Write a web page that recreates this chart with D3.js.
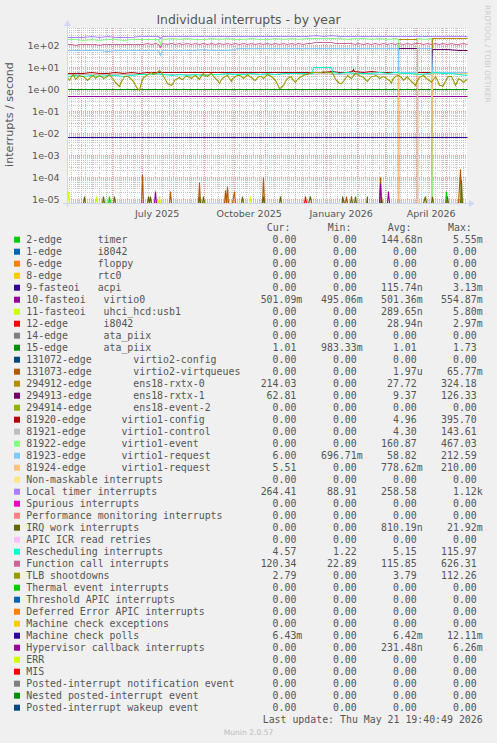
<!DOCTYPE html>
<html><head><meta charset="utf-8">
<script src="https://cdn.jsdelivr.net/npm/d3@7"></script>
<style>
body{margin:0;background:#f0f0f0}
svg{display:block}
.mono{font-family:"DejaVu Sans Mono",monospace;white-space:pre}
.sans{font-family:"DejaVu Sans",sans-serif}
</style>
</head><body><svg id="c" width="497" height="743"></svg>
<script>
// ---------- data ----------
const startTime = Date.UTC(2025, 3, 16, 19, 40, 49);
const endTime = Date.UTC(2026, 4, 21, 19, 40, 49);

const legendNames = [
  "2-edge      timer","1-edge      i8042","6-edge      floppy","8-edge      rtc0",
  "9-fasteoi   acpi","10-fasteoi   virtio0","11-fasteoi   uhci_hcd:usb1","12-edge      i8042",
  "14-edge      ata_piix","15-edge      ata_piix","131072-edge       virtio2-config",
  "131073-edge       virtio2-virtqueues","294912-edge       ens18-rxtx-0","294913-edge       ens18-rxtx-1",
  "294914-edge       ens18-event-2","81920-edge      virtio1-config","81921-edge      virtio1-control",
  "81922-edge      virtio1-event","81923-edge      virtio1-request","81924-edge      virtio1-request",
  "Non-maskable interrupts","Local timer interrupts","Spurious interrupts",
  "Performance monitoring interrupts","IRQ work interrupts","APIC ICR read retries",
  "Rescheduling interrupts","Function call interrupts","TLB shootdowns","Thermal event interrupts",
  "Threshold APIC interrupts","Deferred Error APIC interrupts","Machine check exceptions",
  "Machine check polls","Hypervisor callback interrupts","ERR","MIS",
  "Posted-interrupt notification event","Nested posted-interrupt event","Posted-interrupt wakeup event"
];
const legendColors = [
  "#00CC00","#0066B3","#FF8000","#FFCC00","#330099","#990099","#CCFF00","#FF0000","#808080",
  "#008F00","#00487D","#B35A00","#B38F00","#6B006B","#8FB300","#B30000","#BEBEBE","#80FF80",
  "#80C9FF","#FFC080","#FFE680","#AA80FF","#EE00CC","#FF8080","#666600","#FFBFFF","#00FFCC",
  "#CC6699","#999900","#00CC00","#0066B3","#FF8000","#FFCC00","#330099","#990099","#CCFF00",
  "#FF0000","#808080","#008F00","#00487D"
];
const curVals = ["0.00","0.00","0.00","0.00","0.00","501.09m","0.00","0.00","0.00","1.01","0.00","0.00","214.03","62.81","0.00","0.00","0.00","0.00","6.00","5.51","0.00","264.41","0.00","0.00","0.00","0.00","4.57","120.34","2.79","0.00","0.00","0.00","0.00","6.43m","0.00","0.00","0.00","0.00","0.00","0.00"];
const minVals = ["0.00","0.00","0.00","0.00","0.00","495.06m","0.00","0.00","0.00","983.33m","0.00","0.00","0.00","0.00","0.00","0.00","0.00","0.00","696.71m","0.00","0.00","88.91","0.00","0.00","0.00","0.00","1.22","22.89","0.00","0.00","0.00","0.00","0.00","0.00","0.00","0.00","0.00","0.00","0.00","0.00"];
const avgVals = ["144.68n","0.00","0.00","0.00","115.74n","501.36m","289.65n","28.94n","0.00","1.01","0.00","1.97u","27.72","9.37","0.00","4.96","4.30","160.87","58.82","778.62m","0.00","258.58","0.00","0.00","810.19n","0.00","5.15","115.85","3.79","0.00","0.00","0.00","0.00","6.42m","231.48n","0.00","0.00","0.00","0.00","0.00"];
const maxVals = ["5.55m","0.00","0.00","0.00","3.13m","554.87m","5.80m","2.97m","0.00","1.73","0.00","65.77m","324.18","126.33","0.00","395.70","143.61","467.03","212.59","210.00","0.00","1.12k","0.00","0.00","21.92m","0.00","115.97","626.31","112.26","0.00","0.00","0.00","0.00","12.11m","6.26m","0.00","0.00","0.00","0.00","0.00"];

const yTickLabels = ["1e-05","1e-04","1e-03","1e-02","1e-01","1e+00","1e+01","1e+02"];
const xTickLabels = ["July 2025","October 2025","January 2026","April 2026"];

// continuous daily-average series: [day since start, value]
const virtio0 = [[0,0.501],[400,0.501]];
const ataPiix15 = [[0,1.01],[400,1.01]];
const mcePolls = [[0,0.00642],[400,0.00642]];
const localTimer = [[0,246],[8,250],[16,244],[24,252],[32,248],[40,254],[48,247],[56,251],[64,249],[72,253],[78,262],[88,270],[91,266],[93,205],[95,268],[104,272],[112,268],[120,274],[128,270],[136,272],[144,269],[152,274],[160,271],[168,276],[176,270],[184,274],[192,272],[200,276],[208,270],[216,274],[224,272],[232,276],[240,273],[248,280],[256,278],[264,282],[272,274],[280,278],[288,274],[296,272],[304,276],[312,274],[320,270],[328,274],[336,272],[344,276],[352,272],[360,274],[368,276],[376,272],[384,278],[392,272],[400,266]];
const virtio1Event = [[0,184],[8,186],[16,182],[24,185],[32,183],[40,186],[48,184],[56,182],[64,185],[72,188],[78,198],[86,204],[91,200],[93,112],[95,202],[104,205],[112,203],[120,206],[128,204],[136,202],[144,205],[152,203],[160,206],[168,204],[176,203],[184,206],[192,204],[200,202],[208,205],[216,203],[224,206],[232,204],[240,205],[246,214],[256,216],[264,213],[272,206],[280,204],[288,207],[296,205],[304,203],[312,206],[320,204],[328,205],[331,204],[332,0],[350,0],[351,206],[358,204],[364,205],[365,0],[400,0]];
const virtio1Request = [[0,63],[8,64],[16,62],[24,63],[28,61],[32,58],[40,57],[48,58],[55,59],[60,63],[68,64],[76,63],[84,64],[91,61],[93,36],[95,62],[104,64],[112,63],[120,64],[128,63],[136,65],[144,64],[152,63],[160,64],[167,65],[170,76],[180,77],[188,76],[196,78],[204,77],[212,76],[220,78],[228,77],[236,79],[244,78],[252,79],[260,77],[268,78],[276,79],[284,77],[292,78],[300,79],[308,77],[316,78],[324,79],[331,77],[332,6.2],[350,6.1],[351,75],[358,73],[364,74],[365,6.2],[372,6.0],[380,6.3],[388,6.1],[396,6.0],[400,6.0]];
const virtio1Request2 = [[0,0],[331,0],[332,5.4],[350,5.5],[351,0],[364,0],[365,5.5],[400,5.5]];
const virtio1Config = [[0,5.6],[8,5.7],[16,5.5],[24,5.8],[32,5.6],[40,5.7],[48,5.9],[56,5.6],[64,5.8],[72,5.7],[80,6.0],[88,5.8],[96,6.1],[104,5.9],[112,6.0],[120,5.8],[128,6.1],[136,5.9],[144,6.2],[152,6.0],[160,6.1],[168,5.9],[176,6.2],[184,6.0],[192,6.1],[200,6.3],[208,6.0],[216,6.2],[224,6.1],[232,6.3],[240,6.0],[248,6.4],[256,6.2],[264,6.5],[272,6.3],[280,6.4],[285,6.6],[286,8.6],[287,6.5],[296,6.3],[304,6.5],[312,6.2],[320,6.4],[328,6.3],[331,6.4],[332,0],[350,0],[351,6.2],[364,6.1],[365,0],[400,0]];
const virtio1Control = [[0,4.8],[16,4.9],[32,4.7],[48,5.0],[64,4.8],[80,5.1],[96,4.9],[112,5.0],[128,5.1],[144,4.9],[160,5.0],[176,5.2],[192,5.0],[208,5.1],[224,5.2],[240,5.0],[256,5.3],[272,5.1],[288,5.2],[304,5.0],[320,5.1],[331,5.0],[332,0],[350,0],[351,5.0],[364,5.1],[365,0],[400,0]];
const ens18Rxtx0 = [[0,0],[331,0],[332,196],[340,198],[350,200],[351,0],[364,0],[365,212],[372,214],[380,215],[388,213],[396,214],[400,214]];
const ens18Rxtx1 = [[0,0],[331,0],[332,76],[350,77],[351,0],[364,0],[365,66],[380,66],[392,64],[396,60],[400,61]];
const rescheduling = [[0,4.2],[8,4.6],[16,4.0],[24,4.4],[32,4.1],[40,4.5],[48,4.3],[56,4.0],[64,4.4],[72,4.7],[80,5.0],[88,5.3],[96,4.8],[104,4.5],[112,4.7],[120,4.4],[128,4.9],[136,4.6],[144,5.0],[152,4.8],[160,5.2],[168,4.9],[176,5.1],[184,5.4],[192,5.0],[200,5.3],[208,5.1],[216,5.5],[224,5.2],[232,5.4],[240,5.6],[245,5.6],[246,10.5],[264,10.5],[265,5.8],[272,5.5],[280,5.8],[288,5.4],[296,5.7],[304,5.5],[312,5.9],[320,5.6],[328,5.8],[336,5.3],[344,5.6],[352,5.0],[360,5.4],[368,5.8],[376,5.2],[384,5.6],[392,5.0],[400,4.6]];
const functionCall = [[0,110],[4,116],[8,108],[12,114],[16,112],[20,118],[24,110],[28,115],[32,108],[36,113],[40,117],[44,110],[48,114],[52,119],[56,112],[60,116],[64,111],[68,118],[72,113],[76,120],[80,124],[84,118],[88,126],[91,120],[93,85],[95,122],[100,118],[104,124],[108,116],[112,122],[116,117],[120,125],[124,119],[128,123],[132,116],[136,121],[140,118],[144,124],[148,119],[152,123],[156,117],[160,122],[164,118],[168,124],[172,120],[176,126],[180,119],[184,123],[188,117],[192,122],[196,119],[200,125],[204,118],[208,122],[212,117],[216,123],[220,119],[224,124],[228,118],[232,122],[236,120],[240,125],[244,128],[248,140],[252,146],[256,142],[260,148],[264,140],[268,126],[272,122],[276,128],[280,121],[284,126],[288,119],[292,124],[296,118],[300,123],[304,120],[308,126],[312,119],[316,124],[320,118],[324,123],[328,120],[332,125],[336,118],[340,122],[344,117],[348,121],[352,124],[356,118],[360,123],[364,119],[368,125],[372,117],[376,122],[380,118],[384,124],[388,119],[392,116],[396,121],[400,118]];
const tlbShootdowns = [[0,3.5],[2,2.7],[4,4.2],[6,4.8],[8,3.0],[10,3.6],[12,4.5],[14,3.9],[16,3.8],[18,3.1],[20,2.6],[22,3.4],[24,4.0],[26,4.6],[28,3.3],[30,3.9],[32,4.6],[34,4.0],[36,3.1],[38,3.7],[40,4.0],[42,4.7],[44,3.6],[46,3.0],[48,2.2],[50,1.8],[52,1.4],[54,2.4],[56,3.2],[58,3.8],[60,4.1],[62,3.5],[64,3.0],[66,2.3],[68,1.6],[70,1.1],[72,0.9],[74,2.2],[76,3.5],[78,4.2],[80,4.8],[82,5.6],[84,6.0],[86,5.0],[88,5.2],[90,6.4],[92,7.5],[94,6.0],[96,4.0],[98,2.8],[100,2.0],[102,1.7],[104,1.6],[106,2.2],[108,2.8],[110,3.3],[112,3.6],[114,3.0],[116,2.9],[118,3.8],[120,4.2],[122,3.6],[124,3.4],[126,4.0],[128,4.4],[130,3.6],[132,3.0],[134,4.4],[136,5.2],[138,4.5],[140,4.1],[142,4.9],[144,5.6],[146,4.2],[148,3.3],[150,2.5],[152,2.0],[154,2.9],[156,3.6],[158,4.0],[160,4.5],[162,3.2],[164,2.4],[166,3.1],[168,3.8],[170,4.3],[172,4.6],[174,3.8],[176,3.2],[178,4.0],[180,4.8],[182,4.1],[184,3.6],[186,3.0],[188,2.7],[190,3.5],[192,4.2],[194,3.8],[196,3.4],[198,4.1],[200,4.7],[202,4.3],[204,3.9],[206,3.2],[208,2.6],[210,1.7],[212,1.1],[214,1.3],[216,1.6],[218,2.4],[220,3.2],[222,3.7],[224,4.0],[226,3.0],[228,2.2],[230,2.8],[232,3.4],[234,3.9],[236,4.3],[238,4.7],[240,5.0],[242,5.5],[244,5.8],[246,6.1],[248,6.4],[250,6.2],[252,6.0],[254,6.3],[256,6.6],[258,6.1],[260,5.8],[262,6.0],[264,6.2],[266,4.8],[268,3.0],[270,2.3],[272,1.9],[274,2.0],[276,2.2],[278,3.4],[280,4.6],[282,4.0],[284,3.4],[286,4.3],[288,5.4],[290,4.8],[292,4.4],[294,4.0],[296,3.6],[298,3.0],[300,2.4],[302,3.1],[304,3.8],[306,4.2],[308,4.5],[310,3.8],[312,3.2],[314,3.7],[316,4.2],[318,3.6],[320,3.0],[322,2.5],[324,2.0],[326,2.9],[328,3.9],[330,4.3],[332,4.6],[334,3.5],[336,2.6],[338,3.2],[340,3.8],[342,3.1],[344,2.4],[346,2.0],[348,1.6],[350,2.5],[352,3.5],[354,4.0],[356,4.4],[358,3.7],[360,3.0],[362,2.6],[364,2.2],[366,3.0],[368,3.8],[370,2.6],[372,1.6],[374,1.5],[376,1.4],[378,2.4],[380,3.5],[382,3.8],[384,4.0],[386,2.6],[388,1.5],[390,2.3],[392,3.2],[394,2.7],[396,2.2],[398,2.5],[400,2.8]];

// sparse daily spikes (all other days are 0): [day, value]
const timerSpikes = [[42,1.3e-5],[379,2.4e-5]];
const usbSpikes = [[1,2.4e-5],[29,1.3e-5],[92,1.3e-5],[183,1.3e-5]];
const i8042Spikes = [[238,1.3e-5]];
const virtqueueSpikes = [[75,1.3e-4],[103,2.4e-5],[132,6.2e-5],[158,2.5e-5],[160,3.7e-5],[167,2.4e-5],[196,1.0e-4],[279,1.3e-5],[313,1.0e-4],[393,2.4e-4]];
const irqWorkSpikes = [[17,1.3e-5],[36,1.3e-5],[47,1.3e-5],[81,1.3e-5],[83,1.3e-5],[132,1.3e-5],[136,1.3e-5],[175,1.3e-5],[196,1.3e-5],[213,1.3e-5],[243,1.3e-5],[276,1.3e-5],[284,1.3e-5],[288,1.3e-5],[300,1.3e-5],[314,1.3e-5],[358,1.3e-5],[365,1.3e-5],[380,1.3e-5],[394,7e-5]];
const hypervisorSpikes = [[88,2.4e-5],[313,5.4e-5],[321,2.4e-5]];
const zeroSeries = [[0,0],[400,0]];

// ---------- build ----------
function daily(spikes) {
  const m = new Map(spikes);
  return d3.range(0, 401).map(d => [d, m.has(d) ? m.get(d) : 0]);
}
const seriesData = [
  daily(timerSpikes), zeroSeries, zeroSeries, zeroSeries, zeroSeries, virtio0, daily(usbSpikes),
  daily(i8042Spikes), zeroSeries, ataPiix15, zeroSeries, daily(virtqueueSpikes), ens18Rxtx0, ens18Rxtx1,
  zeroSeries, virtio1Config, virtio1Control, virtio1Event, virtio1Request, virtio1Request2, zeroSeries,
  localTimer, zeroSeries, zeroSeries, daily(irqWorkSpikes), zeroSeries, rescheduling, functionCall,
  tlbShootdowns, zeroSeries, zeroSeries, zeroSeries, zeroSeries, mcePolls, daily(hypervisorSpikes),
  zeroSeries, zeroSeries, zeroSeries, zeroSeries, zeroSeries
];

// ---------- layout ----------
const L = 67, R = 467, T = 28, B = 203;
const textCol = "#555555";
const svg = d3.select("#c");
svg.append("rect").attr("width", 497).attr("height", 743).attr("fill", "#f0f0f0");
svg.append("rect").attr("x", L).attr("y", T).attr("width", R - L).attr("height", B - T).attr("fill", "#ffffff");

const x = d3.scaleUtc().domain([new Date(startTime), new Date(endTime)]).range([L, R]);
const y = d3.scaleLog().domain([Math.pow(10, -5.162), Math.pow(10, 2.811)]).range([B, T]);
const dayDate = d => new Date(startTime + d * 864e5);
const snap = v => Math.floor(v) + 0.5;
const yc = v => (v > 0 ? Math.min(y(v), B) : B);

// grid
const grid = svg.append("g");
for (let k = -6; k <= 3; k++) {
  for (let m = 2; m <= 9; m++) {
    const yy = y(m * Math.pow(10, k));
    if (yy < T || yy > B) continue;
    grid.append("line").attr("x1", L).attr("x2", R).attr("y1", snap(yy)).attr("y2", snap(yy))
      .attr("stroke", "#c8c8c8").attr("stroke-width", 1).attr("stroke-dasharray", "1,1");
  }
}
d3.utcMonday.range(new Date(startTime), new Date(endTime)).forEach(t => {
  const xx = snap(x(t));
  grid.append("line").attr("x1", xx).attr("x2", xx).attr("y1", T).attr("y2", B)
    .attr("stroke", "#c8c8c8").attr("stroke-width", 1).attr("stroke-dasharray", "1,1");
});
const months = d3.utcMonth.range(new Date(startTime), new Date(endTime));
months.forEach(t => {
  const xx = snap(x(t));
  grid.append("line").attr("x1", xx).attr("x2", xx).attr("y1", T).attr("y2", B)
    .attr("stroke", "#eba3a3").attr("stroke-width", 1).attr("stroke-dasharray", "1,1");
});
yTickLabels.forEach(lbl => {
  const yy = snap(y(+lbl));
  grid.append("line").attr("x1", L).attr("x2", R).attr("y1", yy).attr("y2", yy)
    .attr("stroke", "#eba3a3").attr("stroke-width", 1).attr("stroke-dasharray", "1,1");
});

// data lines
svg.append("clipPath").attr("id", "plot").append("rect")
  .attr("x", L).attr("y", T - 1).attr("width", R - L + 1).attr("height", B - T + 2);
const lineGen = d3.line().x(d => snap(x(dayDate(d[0])))).y(d => snap(yc(d[1])));
const gLines = svg.append("g").attr("clip-path", "url(#plot)");
seriesData.forEach((s, i) => {
  gLines.append("path").attr("d", lineGen(s)).attr("fill", "none")
    .attr("stroke", legendColors[i]).attr("stroke-width", 1.1);
});

// axes
const axisCol = "#CFD6F8";
svg.append("line").attr("x1", L - 4).attr("x2", R + 4).attr("y1", B + 0.5).attr("y2", B + 0.5).attr("stroke", axisCol);
svg.append("line").attr("x1", L + 0.5).attr("x2", L + 0.5).attr("y1", B + 4).attr("y2", T - 4).attr("stroke", axisCol);
svg.append("path").attr("d", `M${R + 2},${B - 3} L${R + 2},${B + 4} L${R + 8},${B + 0.5} Z`).attr("fill", axisCol);
svg.append("path").attr("d", `M${L - 3},${T - 2} L${L + 4},${T - 2} L${L + 0.5},${T - 8} Z`).attr("fill", axisCol);

// y tick labels
yTickLabels.forEach(lbl => {
  svg.append("text").attr("class", "sans").attr("x", 59.5).attr("y", y(+lbl) + 3.5)
    .attr("text-anchor", "end").attr("font-size", 9.5).attr("fill", textCol).text(lbl);
});
// x tick labels (centered in their month)
const labelMonths = months.filter(t => [6, 9, 0, 3].includes(t.getUTCMonth()));
labelMonths.forEach((t, i) => {
  const xx = x(new Date(t.getTime() + 15 * 864e5));
  svg.append("text").attr("class", "sans").attr("x", xx).attr("y", 216.5)
    .attr("text-anchor", "middle").attr("font-size", 9.5).attr("fill", textCol).text(xTickLabels[i]);
});

// title, axis label, watermark
svg.append("text").attr("class", "sans").attr("x", 248.5).attr("y", 24)
  .attr("text-anchor", "middle").attr("font-size", 12.4).attr("fill", textCol)
  .text("Individual interrupts - by year");
svg.append("text").attr("class", "sans").attr("transform", "translate(13,114.5) rotate(-90)")
  .attr("text-anchor", "middle").attr("font-size", 11.1).attr("fill", textCol)
  .text("interrupts / second");
svg.append("text").attr("class", "sans").attr("transform", "translate(484.5,5) rotate(90)")
  .attr("text-anchor", "start").attr("font-size", 7.6).attr("fill", "#cccccc")
  .text("RRDTOOL / TOBI OETIKER");

// legend
const fs = 9.9;
const headers = [["Cur:", 266.7], ["Min:", 327.7], ["Avg:", 387.7], ["Max:", 448]];
headers.forEach(h => {
  svg.append("text").attr("class", "mono").attr("x", h[1]).attr("y", 231)
    .attr("font-size", fs).attr("fill", textCol).text(h[0]);
});
const colRight = [302.3, 362.7, 422.7, 482.7];
const colVals = [curVals, minVals, avgVals, maxVals];
legendNames.forEach((n, i) => {
  const cy = 239.7 + 12 * i;
  svg.append("rect").attr("x", 14).attr("y", cy - 3).attr("width", 6).attr("height", 6)
    .attr("fill", legendColors[i]);
  svg.append("text").attr("class", "mono").attr("x", 26.3).attr("y", cy + 3.5)
    .attr("font-size", fs).attr("fill", textCol).text(n);
  colVals.forEach((vals, c) => {
    const s = vals[i];
    const hasSuffix = /[a-zA-Z]$/.test(s);
    svg.append("text").attr("class", "mono").attr("x", colRight[c] - (hasSuffix ? 0 : 5.96))
      .attr("y", cy + 3.5).attr("text-anchor", "end").attr("font-size", fs).attr("fill", textCol).text(s);
  });
});
svg.append("text").attr("class", "mono").attr("x", 482.7).attr("y", 722.8).attr("text-anchor", "end")
  .attr("font-size", fs).attr("fill", textCol).text("Last update: Thu May 21 19:40:49 2026");
svg.append("text").attr("class", "sans").attr("x", 248.5).attr("y", 735)
  .attr("text-anchor", "middle").attr("font-size", 7.6).attr("fill", "#bbbbbb").text("Munin 2.0.57");
</script>
</body></html>
